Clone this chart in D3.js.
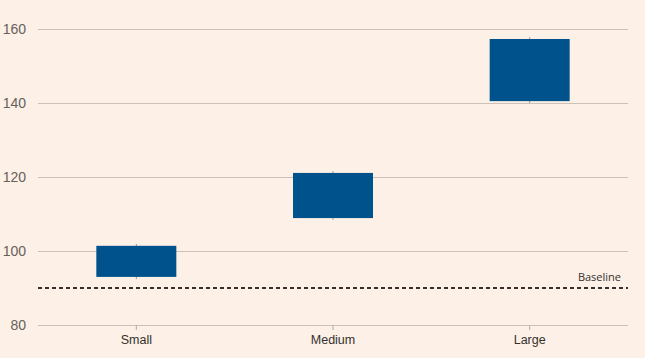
<!DOCTYPE html>
<html><head><meta charset="utf-8">
<script src="https://cdn.jsdelivr.net/npm/d3@7"></script>
<style>
html,body{margin:0;padding:0;background:#fdf0e6;}
svg{display:block;font-family:"Open Sans",sans-serif;}
</style></head>
<body><svg id="c" width="645" height="358"></svg>
<script>
const categories = ["Small", "Medium", "Large"];
const lowValues  = [93.0, 108.9, 140.5];
const highValues = [101.4, 121.1, 157.3];
const minValues  = [92.4, 108.4, 140.0];
const maxValues  = [101.9, 121.6, 157.8];
const yTicks = [80, 100, 120, 140, 160];
const baselineValue = 90;
const baselineLabel = "Baseline";

(function () {
const svg = d3.select("#c");
const mLeft = 38, mRight = 628, mTop = 29, mBottom = 325;
const x = d3.scaleBand().domain(categories).range([mLeft, mRight]).paddingInner(0).paddingOuter(0);
const y = d3.scaleLinear().domain([80, 160]).range([mBottom, mTop]);
const barW = 80;

const yAxis = d3.axisLeft(y).tickValues(yTicks).tickSize(-(mRight - mLeft)).tickPadding(10).tickFormat(d3.format("d"));
const gy = svg.append("g").attr("transform", `translate(${mLeft},0)`).call(yAxis);
gy.select(".domain").remove();
gy.selectAll(".tick line").attr("stroke", "#ccc1b7").attr("stroke-width", 1);
gy.selectAll(".tick text").attr("fill", "#66605c").attr("font-size", 14).attr("x", -12).attr("text-anchor", "end");

const xAxis = d3.axisBottom(x).tickSize(5).tickPadding(5);
const gx = svg.append("g").attr("transform", `translate(0,${mBottom})`).call(xAxis);
gx.select(".domain").remove();
gx.selectAll(".tick line").attr("stroke", "#b7ada4");
gx.selectAll(".tick text").attr("fill", "#33302e").attr("font-size", 12.5);

const data = categories.map((c, i) => ({c, lo: lowValues[i], hi: highValues[i], mn: minValues[i], mx: maxValues[i]}));

svg.append("g").selectAll("line").data(data).join("line")
  .attr("x1", d => x(d.c) + x.bandwidth() / 2).attr("x2", d => x(d.c) + x.bandwidth() / 2)
  .attr("y1", d => y(d.mx)).attr("y2", d => y(d.mn))
  .attr("stroke", "#8a9fb5").attr("stroke-width", 1);

svg.append("g").selectAll("rect").data(data).join("rect")
  .attr("x", d => x(d.c) + x.bandwidth() / 2 - barW / 2)
  .attr("width", barW)
  .attr("y", d => y(d.hi))
  .attr("height", d => y(d.lo) - y(d.hi))
  .attr("fill", "#00528c");

svg.append("line").attr("x1", mLeft).attr("x2", mRight)
  .attr("y1", y(baselineValue)).attr("y2", y(baselineValue))
  .attr("stroke", "#33302e").attr("stroke-width", 2).attr("stroke-dasharray", "4,3");
svg.append("text").attr("x", mRight - 7).attr("y", y(baselineValue) - 7)
  .attr("text-anchor", "end").attr("font-size", 11).attr("fill", "#33302e").text(baselineLabel);
})();
</script></body></html>
